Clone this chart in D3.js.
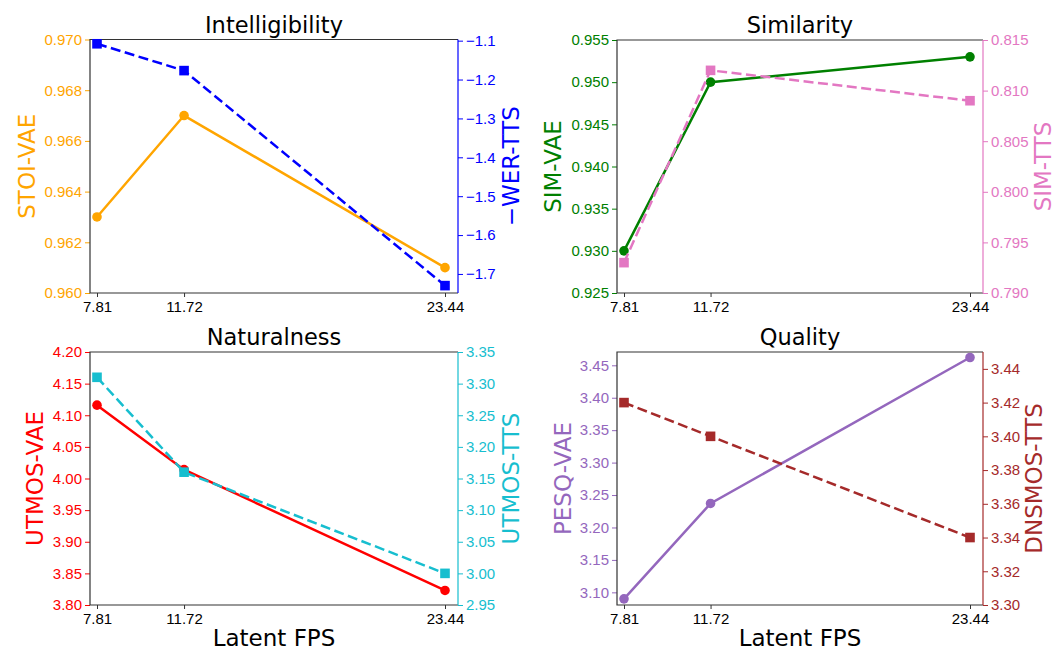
<!DOCTYPE html>
<html>
<head>
<meta charset="utf-8">
<script src="https://cdn.jsdelivr.net/npm/d3@7"></script>
<style>
  body { margin: 0; background: #fff; }
  svg { font-family: "DejaVu Sans", sans-serif; }
</style>
</head>
<body>
<svg id="chart" width="1064" height="651"></svg>
<script>
// latent frame rates (x values)
const fps = [7.81, 11.72, 23.44];

// series
const stoiVae = [0.963, 0.967, 0.961];
const werTts = [-1.108, -1.177, -1.73];
const simVae = [0.930, 0.950, 0.953];
const simTts = [0.793, 0.812, 0.809];
const utmosVae = [4.116, 4.014, 3.823];
const utmosTts = [3.31, 3.16, 3.00];
const pesqVae = [3.090, 3.237, 3.462];
const dnsmosTts = [3.42, 3.40, 3.34];

// tick labels
const stoiTicks = [0.960, 0.962, 0.964, 0.966, 0.968, 0.970];
const werTicks = [-1.7, -1.6, -1.5, -1.4, -1.3, -1.2, -1.1];
const simVaeTicks = [0.925, 0.930, 0.935, 0.940, 0.945, 0.950, 0.955];
const simTtsTicks = [0.790, 0.795, 0.800, 0.805, 0.810, 0.815];
const utmosVaeTicks = [3.80, 3.85, 3.90, 3.95, 4.00, 4.05, 4.10, 4.15, 4.20];
const utmosTtsTicks = [2.95, 3.00, 3.05, 3.10, 3.15, 3.20, 3.25, 3.30, 3.35];
const pesqTicks = [3.10, 3.15, 3.20, 3.25, 3.30, 3.35, 3.40, 3.45];
const dnsmosTicks = [3.30, 3.32, 3.34, 3.36, 3.38, 3.40, 3.42, 3.44];

const panels = [
  { title: "Intelligibility", box: [90, 39.5, 458, 293], xlabel: false,
    left: { name: "STOI-VAE", values: stoiVae, color: "#FFA500", domain: [0.960, 0.970], ticks: stoiTicks, fmt: ".3f", labelX: 27 },
    right: { name: "\u2212WER-TTS", values: werTts, color: "#0000FF", domain: [-1.749, -1.097], ticks: werTicks, fmt: ".1f", labelX: 511 } },
  { title: "Similarity", box: [617, 40, 983, 293], xlabel: false,
    left: { name: "SIM-VAE", values: simVae, color: "#008000", domain: [0.925, 0.955], ticks: simVaeTicks, fmt: ".3f", labelX: 553 },
    right: { name: "SIM-TTS", values: simTts, color: "#e377c2", domain: [0.790, 0.815], ticks: simTtsTicks, fmt: ".3f", labelX: 1043 } },
  { title: "Naturalness", box: [90, 352, 458, 605], xlabel: true,
    left: { name: "UTMOS-VAE", values: utmosVae, color: "#FF0000", domain: [3.80, 4.20], ticks: utmosVaeTicks, fmt: ".2f", labelX: 35 },
    right: { name: "UTMOS-TTS", values: utmosTts, color: "#17becf", domain: [2.95, 3.35], ticks: utmosTtsTicks, fmt: ".2f", labelX: 511 } },
  { title: "Quality", box: [617, 352, 983, 605], xlabel: true,
    left: { name: "PESQ-VAE", values: pesqVae, color: "#9467bd", domain: [3.0805, 3.4705], ticks: pesqTicks, fmt: ".2f", labelX: 563 },
    right: { name: "DNSMOS-TTS", values: dnsmosTts, color: "#A52A2A", domain: [3.30, 3.45], ticks: dnsmosTicks, fmt: ".2f", labelX: 1034 } }
];

const svg = d3.select("#chart");

panels.forEach(function(p) {
  const [x0, y0, x1, y1] = p.box;
  const g = svg.append("g");

  const x = d3.scaleLinear().domain([fps[0], fps[2]]).range([x0 + 7, x1 - 13]);
  const yL = d3.scaleLinear().domain(p.left.domain).range([y1, y0]);
  const yR = d3.scaleLinear().domain(p.right.domain).range([y1, y0]);

  // x axis
  const xa = g.append("g").attr("transform", "translate(0," + y1 + ")")
    .call(d3.axisBottom(x).tickValues(fps).tickFormat(d3.format(".2f")).tickSizeOuter(0).tickSize(4).tickPadding(4));
  xa.select(".domain").remove();
  xa.selectAll("line").attr("stroke", "#333");
  xa.selectAll("text").attr("font-size", 15).attr("fill", "#000");

  // left axis
  const la = g.append("g").attr("transform", "translate(" + x0 + ",0)")
    .call(d3.axisLeft(yL).tickValues(p.left.ticks).tickFormat(d3.format(p.left.fmt)).tickSizeOuter(0).tickSize(5).tickPadding(3));
  la.select(".domain").remove();
  la.selectAll("line").attr("stroke", p.left.color);
  la.selectAll("text").attr("font-size", 15).attr("fill", p.left.color);

  // right axis
  const ra = g.append("g").attr("transform", "translate(" + x1 + ",0)")
    .call(d3.axisRight(yR).tickValues(p.right.ticks).tickFormat(d3.format(p.right.fmt)).tickSizeOuter(0).tickSize(5).tickPadding(3));
  ra.select(".domain").remove();
  ra.selectAll("line").attr("stroke", p.right.color);
  ra.selectAll("text").attr("font-size", 15).attr("fill", p.right.color);

  // frame
  g.append("path")
    .attr("d", "M" + x1 + "," + y0 + "H" + x0 + "V" + y1 + "H" + x1)
    .attr("fill", "none").attr("stroke", "#333").attr("stroke-width", 1.2);
  g.append("line").attr("x1", x1).attr("x2", x1).attr("y1", y0).attr("y2", y1)
    .attr("stroke", p.right.color).attr("stroke-width", 1.2);

  // left series: solid with circles
  const lineL = d3.line().x((d, i) => x(fps[i])).y(d => yL(d));
  g.append("path").datum(p.left.values).attr("d", lineL)
    .attr("fill", "none").attr("stroke", p.left.color).attr("stroke-width", 2.5);
  g.selectAll(".dotL").data(p.left.values).enter().append("circle")
    .attr("cx", (d, i) => x(fps[i])).attr("cy", d => yL(d)).attr("r", 4.8)
    .attr("fill", p.left.color);

  // right series: dashed with squares
  const lineR = d3.line().x((d, i) => x(fps[i])).y(d => yR(d));
  g.append("path").datum(p.right.values).attr("d", lineR)
    .attr("fill", "none").attr("stroke", p.right.color).attr("stroke-width", 2.5)
    .attr("stroke-dasharray", "10,4.5");
  g.selectAll(".sqR").data(p.right.values).enter().append("rect")
    .attr("x", (d, i) => x(fps[i]) - 4.8).attr("y", d => yR(d) - 4.8)
    .attr("width", 9.6).attr("height", 9.6).attr("fill", p.right.color);

  // title
  g.append("text").attr("x", (x0 + x1) / 2).attr("y", y0 - 7)
    .attr("text-anchor", "middle").attr("font-size", 22.5).attr("fill", "#000")
    .text(p.title);

  // y labels
  const cy = (y0 + y1) / 2;
  g.append("text").attr("transform", "translate(" + p.left.labelX + "," + cy + ") rotate(-90)")
    .attr("text-anchor", "middle").attr("dy", "0.35em").attr("font-size", 23)
    .attr("fill", p.left.color).text(p.left.name);
  g.append("text").attr("transform", "translate(" + p.right.labelX + "," + cy + ") rotate(-90)")
    .attr("text-anchor", "middle").attr("dy", "0.35em").attr("font-size", 23)
    .attr("fill", p.right.color).text(p.right.name);

  if (p.xlabel) {
    g.append("text").attr("x", (x0 + x1) / 2).attr("y", 646)
      .attr("text-anchor", "middle").attr("font-size", 23).attr("fill", "#000")
      .text("Latent FPS");
  }
});
</script>
</body>
</html>
